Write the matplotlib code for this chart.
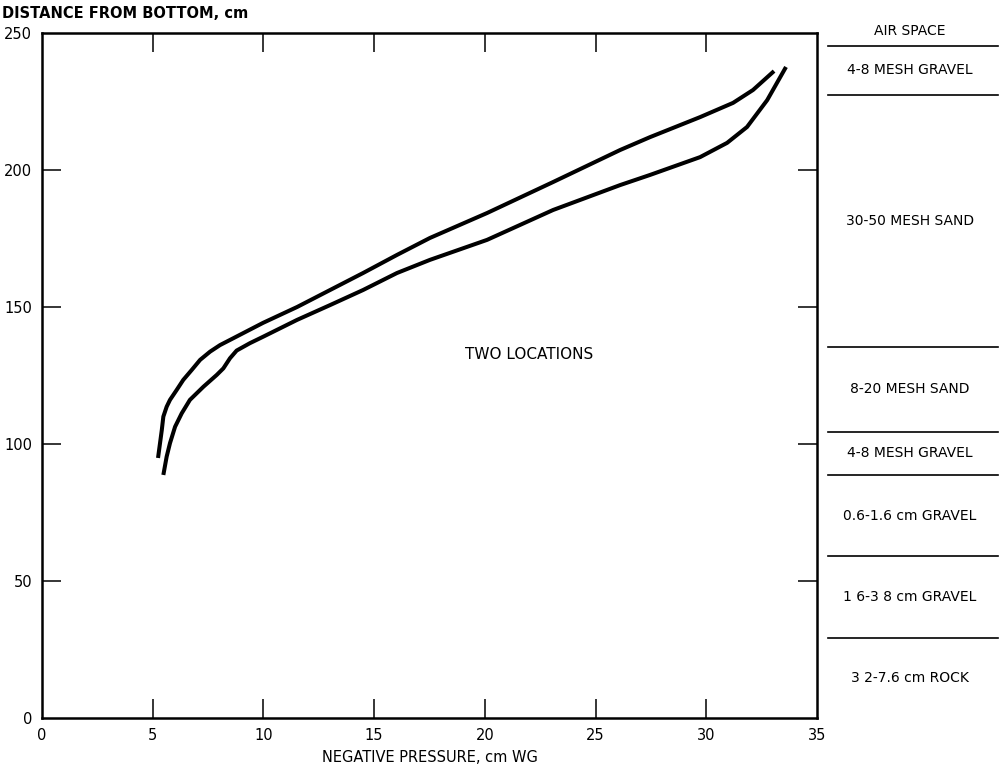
import matplotlib
matplotlib.use("Agg")
import matplotlib.pyplot as plt

# ---- data ----
upper_x = [5.24, 5.41, 5.48, 5.63, 5.78, 6.08, 6.38, 6.76, 7.14, 7.59, 8.04, 8.64,
           9.98, 11.52, 13.01, 14.50, 16.03, 17.52, 20.10, 23.08, 26.11, 27.46,
           29.72, 31.21, 32.11, 33.06]
upper_y = [94.9, 105.1, 110.0, 113.6, 116.1, 119.7, 123.4, 127.0, 130.7, 133.7, 136.1, 138.6,
           144.2, 150.0, 156.2, 162.4, 169.0, 175.2, 184.3, 195.6, 207.3, 212.0,
           219.3, 224.5, 229.2, 236.1]

lower_x = [5.48, 5.63, 5.78, 6.01, 6.31, 6.68, 7.29, 7.89, 8.19, 8.49, 8.79, 9.39, 10.0,
           11.52, 13.01, 14.50, 16.03, 17.52, 20.10, 23.08, 26.11, 27.46, 29.72,
           30.94, 31.84, 32.75, 33.60]
lower_y = [88.7, 95.4, 100.3, 106.3, 111.2, 116.1, 120.9, 125.2, 127.6, 131.3, 134.1, 136.8, 139.2,
           145.3, 150.7, 156.2, 162.4, 167.2, 174.5, 185.4, 194.5, 198.2, 204.7,
           209.9, 215.7, 225.5, 237.6]

xticks = [0, 5, 10, 15, 20, 25, 30, 35]
yticks = [0, 50, 100, 150, 200, 250]

layer_names = ["AIR SPACE", "4-8 MESH GRAVEL", "30-50 MESH SAND", "8-20 MESH SAND",
               "4-8 MESH GRAVEL", "0.6-1.6 cm GRAVEL", "1 6-3 8 cm GRAVEL", "3 2-7.6 cm ROCK"]
layer_tops = [256.0, 245.3, 227.4, 135.4, 104.4, 88.7, 59.1, 29.2]
layer_bottoms = [245.3, 227.4, 135.4, 104.4, 88.7, 59.1, 29.2, 0.0]
boundaries = [245.3, 227.4, 135.4, 104.4, 88.7, 59.1, 29.2]

# ---- figure ----
fig = plt.figure(figsize=(9.99, 7.68), dpi=100)
ax = fig.add_axes([42 / 999, 50 / 768, 775 / 999, 685 / 768])

ax.plot(upper_x, upper_y, color="black", lw=2.9, solid_capstyle="butt")
ax.plot(lower_x, lower_y, color="black", lw=2.9, solid_capstyle="butt")

ax.set_xlim(0, 35)
ax.set_ylim(0, 250)
ax.set_xticks(xticks)
ax.set_yticks(yticks)
ax.tick_params(direction="in", length=14, width=1.1, top=True, right=True,
               labelsize=10.5, pad=7, colors="black")
# hide the corner ticks that the reference does not show
for t in (ax.xaxis.get_major_ticks()[0], ax.xaxis.get_major_ticks()[-1],
          ax.yaxis.get_major_ticks()[0], ax.yaxis.get_major_ticks()[-1]):
    t.tick1line.set_visible(False)
    t.tick2line.set_visible(False)
for s in ax.spines.values():
    s.set_linewidth(1.8)

ax.text(22.0, 132.5, "TWO LOCATIONS", fontsize=11, ha="center", va="center")

fig.text(2 / 999, 1 - 14 / 768, "DISTANCE FROM BOTTOM, cm", fontsize=10.5,
         fontweight="bold", ha="left", va="center")
fig.text(430 / 999, 1 - 757 / 768, "NEGATIVE PRESSURE, cm WG", fontsize=10.5,
         ha="center", va="center")

# ---- layer panel ----
pax = fig.add_axes([828 / 999, 50 / 768, 170 / 999, 685 / 768])
pax.set_xlim(0, 1)
pax.set_ylim(0, 250)
pax.axis("off")
for b in boundaries:
    pax.plot([0, 1], [b, b], color="black", lw=1.2, clip_on=False)
for name, t, bt in zip(layer_names, layer_tops, layer_bottoms):
    pax.text(0.48, (t + bt) / 2, name, fontsize=10, ha="center", va="center",
             clip_on=False)

fig.savefig("out.png", dpi=100)
